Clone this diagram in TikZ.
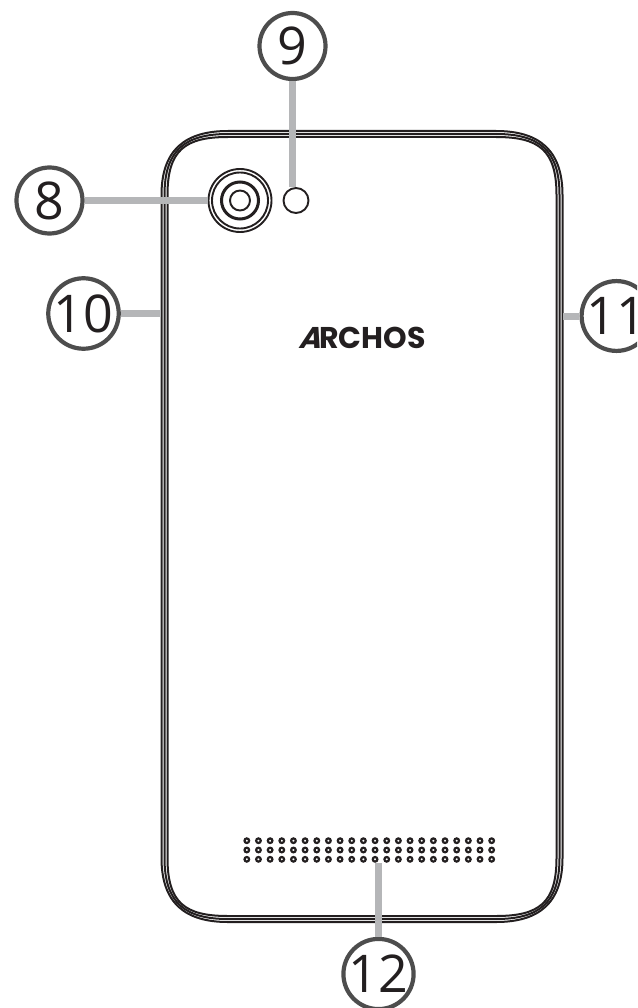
\documentclass[tikz,border=0pt]{standalone}
\usepackage{fontspec}
\setmainfont{Open Sans}
\newfontfamily\logofont{Poppins}
\newfontfamily\logoslant[FakeSlant=0.3]{Poppins}
\definecolor{inkblack}{HTML}{231F20}
\definecolor{ringgray}{HTML}{4D4D4D}
\definecolor{leadgray}{HTML}{B5B6B8}
\tikzset{
  numbox/.style={circle, draw=ringgray, line width=4.2pt, fill=white, inner sep=0pt, minimum size=66pt, text=inkblack, font=\fontsize{52}{52}\selectfont},
  leadline/.style={leadgray, line width=7pt},
  bodyline/.style={inkblack, line width=2pt}
}
\begin{document}
\begin{tikzpicture}[x=1pt,y=-1pt]

\clip (0,0) rectangle (637,1008);

% Корпус (три линии)
\foreach \d in {0,3,6} {
\draw[bodyline] ({161.5+\d},195)
    .. controls ({161.5+\d},150) and (185,{131+\d}) .. (228,{131+\d})
    -- (496,{131+\d})
    .. controls (539,{131+\d}) and ({562.5-\d},150) .. ({562.5-\d},195)
    -- ({562.5-\d},858)
    .. controls ({562.5-\d},903) and (539,{922-\d}) .. (496,{922-\d})
    -- (228,{922-\d})
    .. controls (185,{922-\d}) and ({161.5+\d},903) .. ({161.5+\d},858)
    -- cycle;
}

% Камера и вспышка
\node[circle, draw=inkblack, line width=1.9pt, minimum size=63pt, inner sep=0pt] (camera) at (240,200.5) {};
\draw[inkblack, line width=1.9pt] (camera.center) circle (28);
\draw[inkblack, line width=3pt] (camera.center) circle (18.5);
\draw[inkblack, line width=1.9pt] (camera.center) circle (10);
\node[circle, draw=inkblack, line width=1.9pt, minimum size=25pt, inner sep=0pt] (flash) at (296,200.5) {};

% Логотип
\node[inkblack, inner sep=0pt] (logo) at (362,337.5) {\fontsize{30}{30}\selectfont\bfseries{\logoslant A}\kern-1pt{\logofont RCHOS}};

% Динамик
\foreach \x in {0,...,21} {
\foreach \y in {0,1,2}
    \draw[inkblack, line width=2.2pt] ({246.8+11.66*\x},{840.7+9.3*\y}) circle (2.3);
}

% Номера
\node[numbox] (num9) at (292.5,46) {9};
\node[numbox] (num8) at (49.5,200.5) {8};
\node[numbox] (num10) at (83.5,313.5) {10};
\node[numbox] (num11) at (616.5,316) {11};
\node[numbox] (num12) at (378.5,974) {12};

\coordinate (edgeL) at (161,313.5);
\coordinate (edgeR) at (563,316);
\coordinate (grille) at (378.5,863);

% Выноски
\draw[leadline] (num9) -- (num9 |- flash.north);
\draw[leadline] (num8) -- (camera);
\draw[leadline] (num10) -- (edgeL);
\draw[leadline] (num11) -- (edgeR);
\draw[leadline] (num12) -- (grille);

\end{tikzpicture}
\end{document}
